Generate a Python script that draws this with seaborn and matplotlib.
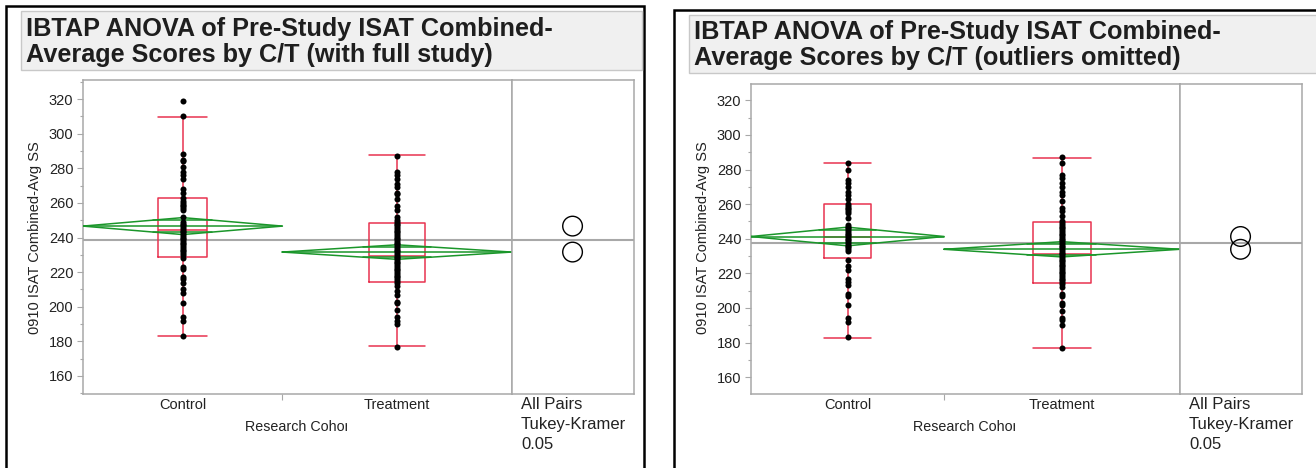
import numpy as np
import pandas as pd
import seaborn as sns
import matplotlib
matplotlib.use("Agg")
import matplotlib.pyplot as plt
from matplotlib.patches import Rectangle
from matplotlib.ticker import MultipleLocator
from matplotlib.transforms import Bbox, TransformedBbox

sns.set_style("white")
plt.rcParams["font.family"] = ["Liberation Sans", "DejaVu Sans"]

groups = ["Control", "Treatment"]

# --- full study (left) ---
full_control = [319, 310, 288, 285, 284, 281, 278, 276, 274, 268, 266, 263, 261, 260,
                259, 258, 257, 256, 252, 249, 248, 247, 246, 245, 244, 243, 242, 241,
                240, 239, 238, 237, 236, 235, 234, 233, 232, 231, 230, 228, 223, 222,
                217, 216, 214, 210, 208, 202, 194, 192, 183]
full_treatment = [287, 278, 276, 274, 271, 269, 266, 265, 262, 258, 256, 252, 250, 249,
                  248, 247, 246, 245, 244, 243, 242, 241, 240, 239, 238, 237, 236, 235,
                  234, 233, 232, 231, 230, 229, 228, 227, 226, 225, 224, 223, 222, 221,
                  220, 219, 218, 217, 216, 215, 214, 212, 209, 207, 203, 202, 198, 194,
                  192, 190, 177]
full_n = [87, 100]
full_mean = [246.6, 231.6]
full_ci = [4.9, 4.2]
full_grand = 238.5
full_q1 = [228.5, 214.1]
full_median = [244.5, 229.3]
full_q3 = [262.6, 248.2]
full_low = [182.9, 177.1]
full_high = [309.8, 287.5]

# --- outliers omitted (right) ---
omit_control = [284, 280, 274, 272, 270, 267, 265, 263, 260, 259, 258, 257, 256, 255,
                 252, 248, 247, 246, 245, 244, 243, 242, 241, 240, 239, 238, 237, 236,
                 235, 234, 233, 228, 224, 222, 217, 215, 213, 208, 207, 202, 194, 192, 183]
omit_treatment = [287, 284, 277, 275, 272, 270, 267, 265, 262, 258, 256, 253, 250, 249,
                  248, 247, 246, 245, 244, 243, 242, 241, 240, 239, 238, 237, 236, 235,
                  234, 233, 232, 231, 230, 229, 228, 227, 226, 225, 224, 223, 222, 221,
                  220, 219, 218, 217, 216, 215, 214, 212, 208, 207, 203, 202, 198, 194,
                  193, 190, 177]
omit_n = [82, 100]
omit_mean = [241.3, 233.9]
omit_ci = [5.4, 4.4]
omit_grand = 237.3
omit_q1 = [228.6, 214.4]
omit_median = [240.8, 231.4]
omit_q3 = [259.9, 249.8]
omit_low = [182.5, 176.8]
omit_high = [283.9, 286.8]

W, H = 1316, 468
RED = "#e8334f"
GREEN = "#1a962a"
FRAME = "#a8a8a8"

fig = plt.figure(figsize=(W / 100, H / 100), dpi=100)


def fx(px):
    return px / W


def fy(py):
    return 1 - py / H


def panel(ox, dy, title, ctrl, treat, n, mean, ci, grand, q1, med, q3, lo, hi, ylim):
    # outer black frame and grey title box
    fig.patches.append(Rectangle((fx(6 + ox), fy(600)), fx(638 + (700 if ox else 0)),
                                 (600 - 6 - dy) / H, transform=fig.transFigure,
                                 fill=False, ec="black", lw=1.8))
    fig.patches.append(Rectangle((fx(21 + ox), fy(69.5 + dy)), fx(621 + (100 if ox else 0)),
                                 58.5 / H, transform=fig.transFigure,
                                 fc="#f0f0f0", ec="#c8c8c8", lw=1))
    fig.text(fx(26 + ox), fy(17 + dy), title, fontsize=18.2, fontweight="bold",
             va="top", ha="left", color="#1e1e1e", linespacing=1.1)

    x0, x1, x2 = 83 + ox, 511.6 + ox, 633.5 + ox
    top, bot = 80 + dy, 394
    ax = fig.add_axes([fx(x0), fy(bot), fx(x1) - fx(x0), (bot - top) / H])
    cax = fig.add_axes([fx(x1), fy(bot), fx(x2) - fx(x1), (bot - top) / H])

    n = np.array(n, dtype=float)
    edges = np.concatenate([[0], np.cumsum(n)])
    centers = (edges[:-1] + edges[1:]) / 2
    bw = 0.245 * n

    ax.axhline(grand, color=FRAME, lw=1.5, zorder=1)
    cax.axhline(grand, color=FRAME, lw=1.5, zorder=1)

    stats = [dict(med=med[i], q1=q1[i], q3=q3[i], whislo=lo[i], whishi=hi[i], fliers=[])
             for i in range(2)]
    lp = dict(color=RED, lw=1.1)
    ax.bxp(stats, positions=centers, widths=bw, capwidths=bw, showfliers=False,
           manage_ticks=False, boxprops=lp, whiskerprops=lp, capprops=lp, medianprops=lp)

    # means diamonds
    for i in range(2):
        a, b, c = edges[i], edges[i + 1], centers[i]
        m, h = mean[i], ci[i]
        ax.plot([a, c, b, c, a], [m, m + h, m, m - h, m], color=GREEN, lw=1.1, zorder=3)
        ax.plot([a, b], [m, m], color=GREEN, lw=1.1, zorder=3)
        half = (b - a) / 2 * (1 - 1 / np.sqrt(2))
        for s in (1, -1):
            ax.plot([c - half, c + half], [m + s * h / np.sqrt(2)] * 2, color=GREEN,
                    lw=1.1, zorder=3)

    df = pd.DataFrame({
        "x": [centers[0]] * len(ctrl) + [centers[1]] * len(treat),
        "score": ctrl + treat,
    })
    sns.scatterplot(data=df, x="x", y="score", color="black", s=19, linewidth=0,
                    ax=ax, zorder=5, legend=False)

    ax.set_xlim(0, edges[-1])
    ax.set_ylim(*ylim)
    ax.set_xlabel("")
    ax.set_ylabel("")
    ax.set_yticks(range(160, 321, 20))
    ax.yaxis.set_minor_locator(MultipleLocator(10))
    ax.set_xticks([edges[1]])
    ax.set_xticklabels([""])
    ax.set_xticks(centers, minor=True)
    ax.set_xticklabels(groups, minor=True)
    ax.tick_params(axis="y", which="major", direction="out", length=4, width=0.8,
                   color=FRAME, labelsize=10.5, labelcolor="#222222", pad=3, left=True)
    ax.tick_params(axis="y", which="minor", direction="out", length=2.5, width=0.8,
                   color=FRAME, left=True)
    ax.tick_params(axis="x", which="major", direction="out", length=4, width=0.8,
                   color=FRAME, bottom=True)
    ax.tick_params(axis="x", which="minor", length=0, labelsize=10.5,
                   labelcolor="#222222", pad=3)

    cax.scatter([0.5, 0.5], mean, s=200, facecolors="none", edgecolors="black",
                linewidths=1.0, zorder=4)
    cax.set_xlim(0, 1)
    cax.set_ylim(*ylim)
    cax.set_xticks([])
    cax.set_yticks([])
    for a_ in (ax, cax):
        for sp in a_.spines.values():
            sp.set_visible(True)
            sp.set_color(FRAME)
            sp.set_linewidth(1.1)

    fig.text(fx(35 + ox), fy(238), "0910 ISAT Combined-Avg SS", rotation=90,
             ha="center", va="center", fontsize=10.5, color="#222222")
    xl = fig.text(fx((x0 + x1) / 2), fy(427), "Research Cohor", ha="center",
                  va="center", fontsize=10.3, color="#222222")
    xl.set_clip_box(TransformedBbox(Bbox([[fx(x0), 0], [fx((x0 + x1) / 2 + 50), 1]]),
                                    fig.transFigure))
    xl.set_clip_on(True)
    fig.text(fx(x1 + 9.5), fy(397), "All Pairs\nTukey-Kramer\n0.05", ha="left",
             va="top", fontsize=12, color="#222222", linespacing=1.42)


panel(0, 0, "IBTAP ANOVA of Pre-Study ISAT Combined-\nAverage Scores by C/T (with full study)",
      full_control, full_treatment, full_n, full_mean, full_ci, full_grand,
      full_q1, full_median, full_q3, full_low, full_high, (149.6, 331))
panel(668, 3.5, "IBTAP ANOVA of Pre-Study ISAT Combined-\nAverage Scores by C/T (outliers omitted)",
      omit_control, omit_treatment, omit_n, omit_mean, omit_ci, omit_grand,
      omit_q1, omit_median, omit_q3, omit_low, omit_high, (150.3, 329.7))

fig.savefig("out.png", dpi=100, facecolor="white")
